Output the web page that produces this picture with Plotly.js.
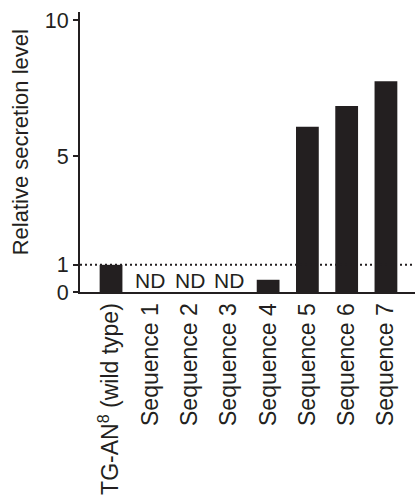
<!DOCTYPE html>
<html>
<head>
<meta charset="utf-8">
<script src="https://cdn.plot.ly/plotly-3.0.1.min.js"></script>
<style>html,body{margin:0;padding:0;background:#fff;}#chart{width:415px;height:495px;}</style>
</head>
<body>
<div id="chart"></div>
<script>
const categories = ["TG-AN<sup>8</sup> (wild type)", "Sequence 1", "Sequence 2", "Sequence 3", "Sequence 4", "Sequence 5", "Sequence 6", "Sequence 7"];
const values = [1.0, null, null, null, 0.45, 6.08, 6.84, 7.75];
const notes = ["", "ND", "ND", "ND", "", "", "", ""];
const yTicks = [0, 1, 5, 10];
const refLevel = 1;
const yTitle = "Relative secretion level";

const ink = "#231f20";
const font = "Liberation Sans, Arial, sans-serif";

const annotations = [];
categories.forEach((c, i) => {
  if (notes[i]) {
    annotations.push({x: c, y: 0, xref: "x", yref: "y", text: notes[i], showarrow: false,
      yanchor: "bottom", yshift: -2, font: {family: font, size: 21, color: ink}});
  }
});
annotations.push({x: -0.175, y: 0.536, xref: "paper", yref: "paper", text: yTitle, textangle: -90,
  showarrow: false, xanchor: "center", yanchor: "middle", font: {family: font, size: 22, color: ink}});

Plotly.newPlot("chart", [{
  type: "bar", x: categories, y: values, width: 0.58,
  marker: {color: ink, line: {width: 0}}, hoverinfo: "none"
}], {
  width: 415, height: 495,
  margin: {l: 80, r: 0, t: 12, b: 203},
  paper_bgcolor: "#fff", plot_bgcolor: "#fff",
  showlegend: false,
  xaxis: {
    type: "category", range: [-0.79, 7.74], showline: true, linewidth: 2, linecolor: ink,
    ticks: "", tickangle: -90, tickfont: {family: font, size: 23, color: ink},
    showgrid: false, zeroline: false, fixedrange: true
  },
  yaxis: {
    range: [0, 10.3], tickvals: yTicks, ticktext: yTicks.map(String), showline: true, linewidth: 2, linecolor: ink,
    ticks: "outside", ticklen: 5, tickwidth: 2, tickcolor: ink,
    tickfont: {family: font, size: 21.5, color: ink}, showgrid: false, zeroline: false, fixedrange: true
  },
  shapes: [{type: "line", xref: "paper", yref: "y", x0: 0, x1: 1, y0: refLevel, y1: refLevel,
    line: {color: ink, width: 2, dash: "2px,3px"}, layer: "above"}],
  annotations: annotations
}, {staticPlot: true});
</script>
</body>
</html>
